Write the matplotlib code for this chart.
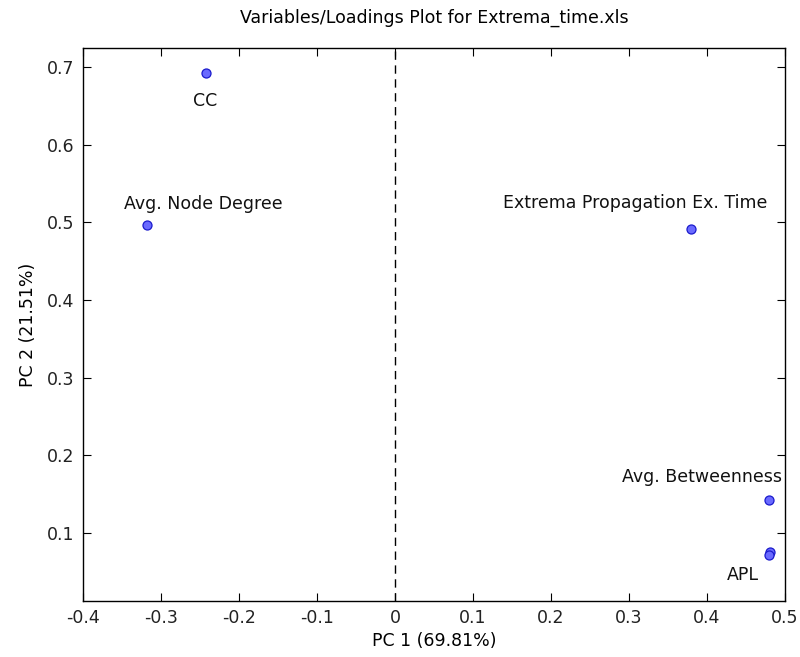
import matplotlib
matplotlib.use("Agg")
import matplotlib.pyplot as plt

plt.rcParams['font.family'] = ['DejaVu Sans']

labels = ["CC", "Avg. Node Degree", "Extrema Propagation Ex. Time",
          "Avg. Betweenness", "APL", ""]
pc1 = [-0.243, -0.318, 0.380, 0.480, 0.481, 0.479]
pc2 = [0.692, 0.497, 0.492, 0.143, 0.076, 0.072]
# label offsets in pixels (dx, dy) relative to each point
offsets = [(0, -28), (56, 21), (-56, 26), (-67, 23), (-27, -23), (0, 0)]

title = "Variables/Loadings Plot for Extrema_time.xls"
xlabel = "PC 1 (69.81%)"
ylabel = "PC 2 (21.51%)"
xticks = [-0.4, -0.3, -0.2, -0.1, 0, 0.1, 0.2, 0.3, 0.4, 0.5]
xticklabels = ["-0.4", "-0.3", "-0.2", "-0.1", "0", "0.1", "0.2", "0.3", "0.4", "0.5"]
yticks = [0.1, 0.2, 0.3, 0.4, 0.5, 0.6, 0.7]
yticklabels = ["0.1", "0.2", "0.3", "0.4", "0.5", "0.6", "0.7"]

FS = 12.5
fig = plt.figure(figsize=(8, 6.57), dpi=100)
ax = fig.add_axes([0.1038, 0.0852, 0.8775, 0.8418])

ax.axvline(0, color='black', linestyle=(0, (6, 4)), linewidth=1.0, zorder=1)
ax.plot(pc1, pc2, linestyle='none', marker='o', markersize=6.5,
        markerfacecolor='#6a6aff', markeredgecolor='#1a1acc', markeredgewidth=0.9, zorder=3)

for x, y, lab, (dx, dy) in zip(pc1, pc2, labels, offsets):
    if lab:
        ax.annotate(lab, (x, y), xytext=(dx, dy), textcoords='offset pixels',
                    ha='center', va='center', fontsize=FS, color='#111111')

ax.set_xlim(-0.4, 0.5)
ax.set_ylim(0.0125, 0.7245)
ax.set_xticks(xticks)
ax.set_xticklabels(xticklabels)
ax.set_yticks(yticks)
ax.set_yticklabels(yticklabels)
ax.tick_params(direction='in', length=5.5, width=0.8, top=True, right=True,
               labelsize=FS, pad=6, labelcolor='#222222')
for s in ax.spines.values():
    s.set_linewidth(1.0)

ax.set_title(title, fontsize=FS, pad=18)
ax.set_xlabel(xlabel, fontsize=FS, labelpad=3)
ax.set_ylabel(ylabel, fontsize=FS, labelpad=7)

fig.savefig("out.png", dpi=100)
